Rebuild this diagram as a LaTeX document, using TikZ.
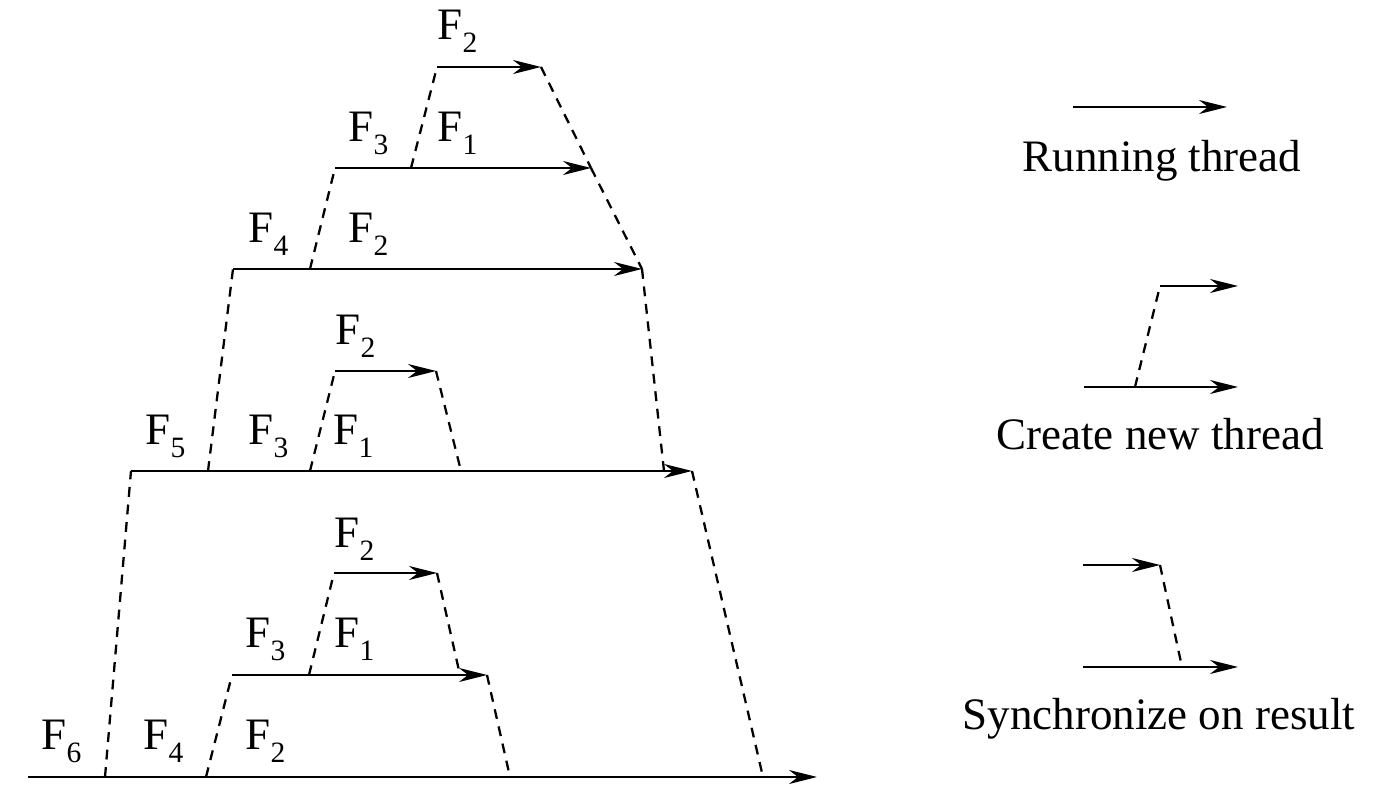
\documentclass[tikz,border=0pt]{standalone}
\usepackage{fontspec}
\setmainfont{Liberation Serif}
\usetikzlibrary{arrows.meta}

\tikzset{
  thread/.style={line width=0.65pt, -{Stealth[length=2.8mm,width=1.4mm,inset=0.9mm]}},
  spawn/.style={line width=0.65pt, dash pattern=on 2.8pt off 2.2pt},
  flabel/.style={anchor=base west, inner sep=0pt, font=\fontsize{12.8}{15}\selectfont},
  keytext/.style={anchor=base, inner sep=0pt, font=\fontsize{12.8}{15}\selectfont}
}
\newcommand{\fn}[1]{F\raisebox{-0.28em}{\fontsize{8.4}{10}\selectfont #1}}

\begin{document}
\begin{tikzpicture}
\useasboundingbox (0,0) rectangle (13.99,8.05);

% thread start and end points
\coordinate (r1s) at (4.37,7.38); \coordinate (r1e) at (5.41,7.38);
\coordinate (r2s) at (3.35,6.37); \coordinate (r2e) at (5.91,6.37);
\coordinate (r3s) at (2.33,5.36); \coordinate (r3e) at (6.42,5.36);
\coordinate (r4s) at (3.35,4.34); \coordinate (r4e) at (4.36,4.34);
\coordinate (r5s) at (1.31,3.34); \coordinate (r5e) at (6.92,3.34);
\coordinate (r6s) at (3.34,2.32); \coordinate (r6e) at (4.37,2.32);
\coordinate (r7s) at (2.32,1.30); \coordinate (r7e) at (4.87,1.30);
\coordinate (r8s) at (0.28,0.28); \coordinate (r8e) at (8.17,0.28);

% fork points on the parent threads
\coordinate (f21) at (4.11,6.37);
\coordinate (f32) at (3.10,5.36);
\coordinate (f53) at (2.08,3.34);
\coordinate (f54) at (3.10,3.34);
\coordinate (f85) at (1.05,0.28);
\coordinate (f87) at (2.06,0.28);
\coordinate (f76) at (3.09,1.30);

% join points on the parent threads
\coordinate (j35) at (6.64,3.34);
\coordinate (j45) at (4.61,3.34);
\coordinate (j58) at (7.63,0.28);
\coordinate (j67) at (4.60,1.30);
\coordinate (j78) at (5.10,0.28);

% Draw running threads
\draw[thread] (r1s) -- (r1e);
\draw[thread] (r2s) -- (r2e);
\draw[thread] (r3s) -- (r3e);
\draw[thread] (r4s) -- (r4e);
\draw[thread] (r5s) -- (r5e);
\draw[thread] (r6s) -- (r6e);
\draw[thread] (r7s) -- (r7e);
\draw[thread] (r8s) -- (r8e);

% Draw forks
\draw[spawn] (f21) -- (r1s);
\draw[spawn] (f32) -- (r2s);
\draw[spawn] (f53) -- (r3s);
\draw[spawn] (f54) -- (r4s);
\draw[spawn] (f85) -- (r5s);
\draw[spawn] (f87) -- (r7s);
\draw[spawn] (f76) -- (r6s);

% Draw joins
\draw[spawn] (r1e) -- (r2e);
\draw[spawn] (r2e) -- (r3e);
\draw[spawn] (r3e) -- (j35);
\draw[spawn] (r4e) -- (j45);
\draw[spawn] (r5e) -- (j58);
\draw[spawn] (r6e) -- (j67);
\draw[spawn] (r7e) -- (j78);

% function labels
\node[flabel] (a1) at (4.37,7.65) {\fn{2}};
\node[flabel] (b1) at (3.48,6.63) {\fn{3}};
\node[flabel] (b2) at (4.37,6.63) {\fn{1}};
\node[flabel] (c1) at (2.48,5.62) {\fn{4}};
\node[flabel] (c2) at (3.48,5.62) {\fn{2}};
\node[flabel] (d1) at (3.35,4.60) {\fn{2}};
\node[flabel] (e1) at (1.45,3.60) {\fn{5}};
\node[flabel] (e2) at (2.48,3.60) {\fn{3}};
\node[flabel] (e3) at (3.33,3.60) {\fn{1}};
\node[flabel] (g1) at (3.34,2.57) {\fn{2}};
\node[flabel] (h1) at (2.45,1.57) {\fn{3}};
\node[flabel] (h2) at (3.34,1.57) {\fn{1}};
\node[flabel] (i1) at (0.41,0.55) {\fn{6}};
\node[flabel] (i2) at (1.43,0.55) {\fn{4}};
\node[flabel] (i3) at (2.45,0.55) {\fn{2}};

% legend
\coordinate (k1s) at (10.73,6.98); \coordinate (k1e) at (12.27,6.98);
\draw[thread] (k1s) -- (k1e);
\node[keytext] (k1t) at (11.62,6.33) {Running thread};

\coordinate (k2a) at (11.60,5.19); \coordinate (k2b) at (12.38,5.19);
\coordinate (k2c) at (10.84,4.18); \coordinate (k2d) at (12.38,4.18);
\coordinate (k2f) at (11.35,4.18);
\draw[thread] (k2a) -- (k2b);
\draw[thread] (k2c) -- (k2d);
\draw[spawn] (k2f) -- (k2a);
\node[keytext] (k2t) at (11.60,3.55) {Create new thread};

\coordinate (k3a) at (10.83,2.40); \coordinate (k3b) at (11.60,2.40);
\coordinate (k3c) at (10.83,1.38); \coordinate (k3d) at (12.38,1.38);
\coordinate (k3j) at (11.82,1.38);
\draw[thread] (k3a) -- (k3b);
\draw[thread] (k3c) -- (k3d);
\draw[spawn] (k3b) -- (k3j);
\node[keytext] (k3t) at (11.59,0.75) {Synchronize on result};

\end{tikzpicture}
\end{document}
